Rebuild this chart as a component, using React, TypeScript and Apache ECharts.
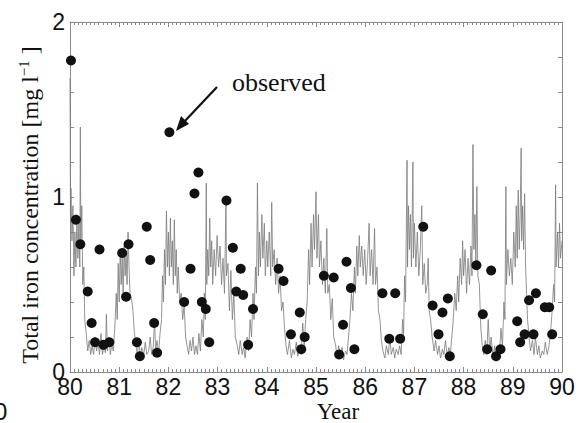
import React, { useEffect, useRef } from "react";
import * as echarts from "echarts";

// Observed total iron concentration (year, mg/l)
const obsYear = [
  80.02, 80.12, 80.21, 80.36, 80.44, 80.51, 80.60, 80.68, 80.80,
  81.06, 81.14, 81.19, 81.36, 81.42, 81.56, 81.63, 81.71, 81.77,
  82.02, 82.32, 82.45, 82.53, 82.61, 82.68, 82.76, 82.83,
  83.18, 83.31, 83.38, 83.47, 83.52, 83.62, 83.72,
  84.24, 84.34, 84.49, 84.67, 84.70, 84.77,
  85.16, 85.36, 85.47, 85.55, 85.62, 85.71, 85.78,
  86.35, 86.49, 86.61, 86.71,
  87.18, 87.37, 87.49, 87.57, 87.68, 87.72,
  88.26, 88.39, 88.48, 88.56, 88.66, 88.75,
  89.09, 89.15, 89.24, 89.33, 89.42, 89.47, 89.65, 89.74, 89.80,
];
const obsValue = [
  1.78, 0.87, 0.73, 0.46, 0.28, 0.17, 0.70, 0.155, 0.17,
  0.68, 0.43, 0.73, 0.17, 0.09, 0.83, 0.64, 0.28, 0.11,
  1.37, 0.40, 0.59, 1.02, 1.14, 0.40, 0.36, 0.17,
  0.98, 0.71, 0.46, 0.59, 0.44, 0.155, 0.36,
  0.59, 0.52, 0.215, 0.34, 0.13, 0.20,
  0.55, 0.54, 0.10, 0.27, 0.63, 0.48, 0.13,
  0.45, 0.19, 0.45, 0.19,
  0.83, 0.38, 0.215, 0.34, 0.42, 0.09,
  0.61, 0.33, 0.13, 0.58, 0.09, 0.13,
  0.29, 0.17, 0.215, 0.41, 0.215, 0.45, 0.37, 0.37, 0.215,
];

// Simulated concentration
const model80 = [
  [80.00, 1.68], [80.01, 0.85], [80.02, 1.05], [80.04, 0.75], [80.06, 0.95], [80.08, 0.55],
  [80.10, 0.8], [80.12, 0.6], [80.14, 0.9], [80.16, 0.65], [80.18, 0.85], [80.20, 0.6],
  [80.21, 1.4], [80.22, 0.75], [80.24, 0.95], [80.26, 0.5], [80.28, 0.6], [80.30, 0.3],
  [80.33, 0.22], [80.36, 0.12], [80.39, 0.18], [80.42, 0.1], [80.45, 0.15], [80.48, 0.1],
  [80.51, 0.2], [80.54, 0.12], [80.57, 0.17], [80.60, 0.1], [80.63, 0.22], [80.66, 0.1],
  [80.69, 0.15], [80.72, 0.11], [80.74, 0.33], [80.76, 0.12], [80.79, 0.2], [80.82, 0.1],
  [80.85, 0.16], [80.88, 0.12], [80.91, 0.25],
];
const model81 = [
  [80.94, 0.45], [80.96, 0.3], [80.98, 0.62], [81.00, 0.4], [81.02, 0.7], [81.04, 0.5],
  [81.06, 0.65], [81.08, 0.45], [81.10, 0.72], [81.12, 0.55], [81.14, 0.68], [81.16, 0.5],
  [81.18, 0.8], [81.20, 0.6], [81.22, 0.45], [81.25, 0.42], [81.28, 0.35], [81.31, 0.22],
  [81.34, 0.15], [81.37, 0.1], [81.40, 0.18], [81.43, 0.09], [81.46, 0.14], [81.50, 0.1],
  [81.53, 0.17], [81.56, 0.1], [81.60, 0.12], [81.63, 0.2], [81.66, 0.1], [81.69, 0.14],
  [81.72, 0.3], [81.74, 0.12], [81.77, 0.18], [81.80, 0.1], [81.83, 0.22], [81.86, 0.3],
  [81.88, 0.55], [81.90, 0.4], [81.92, 0.7], [81.94, 0.5], [81.96, 0.92], [81.98, 0.6],
];
const model82 = [
  [82.00, 0.8], [82.02, 0.55], [82.04, 0.88], [82.06, 0.6], [82.08, 0.75], [82.10, 0.5],
  [82.12, 0.87], [82.14, 0.55], [82.16, 0.7], [82.18, 0.45], [82.20, 0.6], [82.23, 0.4],
  [82.26, 0.45], [82.29, 0.3], [82.32, 0.38], [82.35, 0.2], [82.38, 0.15], [82.41, 0.1],
  [82.44, 0.18], [82.47, 0.12], [82.50, 0.2], [82.53, 0.1], [82.56, 0.15], [82.59, 0.1],
  [82.62, 0.22], [82.65, 0.12], [82.68, 0.3], [82.71, 0.2], [82.73, 0.45], [82.75, 0.3],
  [82.77, 1.08], [82.78, 0.5], [82.80, 0.7], [82.82, 0.55], [82.84, 0.88], [82.86, 0.6],
  [82.88, 0.75], [82.90, 0.5], [82.93, 0.7], [82.96, 0.55], [82.99, 0.78],
];
const model83 = [
  [83.02, 0.6], [83.05, 0.72], [83.08, 0.5], [83.11, 0.65], [83.14, 0.45], [83.17, 0.98],
  [83.18, 0.55], [83.21, 0.62], [83.24, 0.35], [83.27, 0.58], [83.30, 0.3], [83.33, 0.45],
  [83.36, 0.2], [83.40, 0.15], [83.43, 0.1], [83.46, 0.18], [83.50, 0.1], [83.53, 0.14],
  [83.56, 0.08], [83.60, 0.2], [83.63, 0.12], [83.66, 0.3], [83.69, 0.2], [83.72, 0.45],
  [83.74, 0.3], [83.77, 0.6], [83.79, 0.45], [83.81, 1.08], [83.83, 0.55], [83.85, 0.8],
  [83.87, 0.6], [83.90, 0.9], [83.92, 0.65], [83.95, 0.85], [83.97, 0.55],
];
const model84 = [
  [84.00, 0.75], [84.02, 0.6], [84.05, 0.8], [84.08, 0.55], [84.10, 0.97], [84.12, 0.6],
  [84.15, 0.7], [84.18, 0.5], [84.21, 0.65], [84.24, 0.45], [84.27, 0.55], [84.30, 0.35],
  [84.33, 0.4], [84.36, 0.25], [84.39, 0.15], [84.42, 0.1], [84.46, 0.18], [84.50, 0.08],
  [84.53, 0.13], [84.56, 0.1], [84.60, 0.17], [84.63, 0.09], [84.66, 0.12], [84.70, 0.1],
  [84.73, 0.28], [84.76, 0.15], [84.79, 0.3], [84.82, 0.4], [84.85, 0.7], [84.87, 0.5],
  [84.90, 0.85], [84.92, 0.6], [84.95, 0.9], [84.97, 0.7],
];
const model85 = [
  [85.00, 1.03], [85.02, 0.65], [85.05, 0.9], [85.07, 0.6], [85.10, 0.75], [85.13, 0.5],
  [85.16, 0.65], [85.19, 0.45], [85.22, 0.82], [85.24, 0.45], [85.27, 0.5], [85.30, 0.3],
  [85.33, 0.42], [85.36, 0.2], [85.40, 0.15], [85.43, 0.08], [85.46, 0.15], [85.50, 0.1],
  [85.53, 0.14], [85.56, 0.07], [85.60, 0.12], [85.63, 0.1], [85.66, 0.2], [85.69, 0.3],
  [85.72, 0.45], [85.75, 0.35], [85.78, 0.6], [85.80, 0.45], [85.83, 0.72], [85.85, 0.55],
  [85.88, 0.78], [85.90, 0.6], [85.93, 0.72], [85.96, 0.55], [85.99, 0.7],
];
const model86 = [
  [86.02, 0.5], [86.05, 0.65], [86.08, 0.85], [86.10, 0.55], [86.13, 0.7], [86.16, 0.5],
  [86.19, 0.82], [86.21, 0.5], [86.24, 0.6], [86.27, 0.35], [86.30, 0.3], [86.33, 0.18],
  [86.36, 0.12], [86.40, 0.08], [86.43, 0.15], [86.47, 0.1], [86.50, 0.2], [86.53, 0.1],
  [86.57, 0.14], [86.60, 0.08], [86.63, 0.13], [86.67, 0.1], [86.70, 0.15], [86.73, 0.1],
  [86.76, 0.3], [86.78, 0.2], [86.80, 0.55], [86.82, 0.4], [86.85, 1.21], [86.86, 0.6],
  [86.88, 0.95], [86.90, 0.7], [86.92, 0.9], [86.94, 0.6], [86.97, 1.2], [86.98, 0.65],
];
const model87 = [
  [87.00, 0.85], [87.03, 0.6], [87.06, 0.8], [87.09, 0.55], [87.12, 0.7], [87.15, 0.95],
  [87.17, 0.5], [87.20, 0.62], [87.23, 0.45], [87.26, 0.5], [87.28, 0.65], [87.30, 0.35],
  [87.33, 0.3], [87.36, 0.2], [87.40, 0.12], [87.43, 0.18], [87.47, 0.1], [87.50, 0.15],
  [87.53, 0.08], [87.57, 0.13], [87.60, 0.1], [87.63, 0.18], [87.67, 0.09], [87.70, 0.14],
  [87.73, 0.1], [87.76, 0.2], [87.79, 0.3], [87.82, 0.45], [87.85, 0.35], [87.88, 0.55],
  [87.90, 0.4], [87.93, 0.65], [87.96, 0.5], [87.98, 0.75],
];
const model88 = [
  [88.00, 0.55], [88.03, 0.7], [88.06, 0.45], [88.09, 0.65], [88.12, 0.5], [88.15, 0.72],
  [88.17, 0.55], [88.19, 1.3], [88.21, 0.7], [88.23, 0.9], [88.25, 0.6], [88.27, 1.06],
  [88.29, 0.55], [88.32, 0.5], [88.35, 0.25], [88.38, 0.15], [88.41, 0.1], [88.44, 0.18],
  [88.47, 0.1], [88.50, 0.3], [88.53, 0.12], [88.56, 0.2], [88.60, 0.08], [88.63, 0.15],
  [88.66, 0.07], [88.70, 0.14], [88.73, 0.1], [88.76, 0.25], [88.79, 0.15], [88.82, 0.4],
  [88.84, 0.3], [88.86, 1.06], [88.87, 0.5], [88.90, 0.7], [88.93, 0.55], [88.96, 0.65],
  [88.99, 0.5],
];
const model89 = [
  [89.02, 0.8], [89.05, 0.6], [89.07, 0.95], [89.09, 0.65], [89.11, 1.04], [89.13, 0.7],
  [89.15, 0.9], [89.17, 1.28], [89.18, 0.75], [89.20, 0.95], [89.22, 0.7], [89.24, 1.02],
  [89.26, 0.6], [89.28, 0.45], [89.30, 0.3], [89.33, 0.2], [89.36, 0.12], [89.40, 0.18],
  [89.43, 0.1], [89.46, 0.2], [89.50, 0.1], [89.53, 0.15], [89.56, 0.08], [89.60, 0.12],
  [89.63, 0.1], [89.66, 0.17], [89.70, 0.1], [89.73, 0.14], [89.76, 0.2], [89.80, 0.35],
  [89.83, 0.5], [89.85, 0.4], [89.87, 1.07], [89.88, 0.6], [89.91, 0.8], [89.93, 0.6],
  [89.95, 0.85], [89.97, 0.65], [90.00, 0.75],
];

const xTicks = { min: 80, max: 90, interval: 1 };
const yTicks = { min: 0, max: 2, interval: 0.2 };

export default function App() {
  const ref = useRef<HTMLDivElement>(null);
  useEffect(() => {
    if (!ref.current) return;
    const chart = echarts.init(ref.current, null, { renderer: "svg" });
    const model = [
      ...model80, ...model81, ...model82, ...model83, ...model84,
      ...model85, ...model86, ...model87, ...model88, ...model89,
    ];
    const observed = obsYear.map((t, i) => [t, obsValue[i]]);
    const axisCol = "#8a8a8a";
    const sans = "Liberation Sans";
    const serif = "Liberation Serif";
    const intLabel = (v: number) =>
      Math.abs(v - Math.round(v)) < 1e-6 ? String(Math.round(v)) : "";

    const xBase = {
      type: "value",
      min: xTicks.min,
      max: xTicks.max,
      interval: xTicks.interval,
      axisLine: { show: true, onZero: false, lineStyle: { color: axisCol, width: 1 } },
      axisTick: { show: true, inside: true, length: 5, lineStyle: { color: axisCol } },
      minorTick: { show: true, splitNumber: 12, length: 3, lineStyle: { color: axisCol } },
      splitLine: { show: false },
    };
    const yBase = {
      type: "value",
      min: yTicks.min,
      max: yTicks.max,
      interval: yTicks.interval,
      axisLine: { show: true, onZero: false, lineStyle: { color: axisCol, width: 1 } },
      axisTick: { show: true, inside: true, length: 4, lineStyle: { color: axisCol } },
      splitLine: { show: false },
    };

    chart.setOption({
      animation: false,
      backgroundColor: "#ffffff",
      grid: { left: 70, right: 23, top: 22, bottom: 51 },
      xAxis: [
        {
          ...xBase,
          position: "bottom",
          axisLabel: {
            show: true,
            margin: 3,
            fontFamily: sans,
            fontSize: 23,
            color: "#111",
            formatter: intLabel,
          },
        },
        { ...xBase, position: "top", axisLabel: { show: false } },
      ],
      yAxis: [
        {
          ...yBase,
          position: "left",
          axisLabel: {
            show: true,
            margin: 5,
            fontFamily: sans,
            fontSize: 23,
            color: "#111",
            formatter: intLabel,
          },
        },
        { ...yBase, position: "right", axisLabel: { show: false } },
      ],
      series: [
        {
          name: "simulated",
          type: "line",
          data: model,
          showSymbol: false,
          symbol: "none",
          lineStyle: { color: "#7a7a7a", width: 0.8 },
          z: 2,
        },
        {
          name: "observed",
          type: "scatter",
          data: observed,
          symbol: "circle",
          symbolSize: 10,
          itemStyle: { color: "#111", opacity: 1 },
          z: 3,
        },
      ],
      graphic: [
        {
          type: "text",
          x: 30,
          y: 205,
          rotation: Math.PI / 2,
          style: {
            text: "{a|Total iron concentration [mg l}{s|−1}{a| ]}",
            rich: {
              a: { fontFamily: serif, fontSize: 24, fill: "#111", lineHeight: 28 },
              s: {
                fontFamily: serif,
                fontSize: 15,
                fill: "#111",
                verticalAlign: "top",
                lineHeight: 28,
              },
            },
            align: "center",
            verticalAlign: "middle",
          },
        },
        {
          type: "text",
          x: 338,
          y: 411,
          style: {
            text: "Year",
            fontFamily: serif,
            fontSize: 23,
            fill: "#111",
            align: "center",
            verticalAlign: "middle",
          },
        },
        {
          type: "text",
          x: 232,
          y: 82,
          style: {
            text: "observed",
            fontFamily: serif,
            fontSize: 26,
            fill: "#111",
            align: "left",
            verticalAlign: "middle",
          },
        },
        {
          type: "line",
          shape: { x1: 217, y1: 87, x2: 184, y2: 122 },
          style: { stroke: "#111", lineWidth: 2.2 },
        },
        {
          type: "polygon",
          shape: { points: [[176, 131], [189, 124], [181, 116]] },
          style: { fill: "#111" },
        },
        {
          type: "text",
          x: -6,
          y: 411,
          style: {
            text: "0",
            fontFamily: sans,
            fontSize: 24,
            fill: "#111",
            align: "left",
            verticalAlign: "middle",
          },
        },
      ],
    });
    return () => chart.dispose();
  }, []);
  return (
    <div
      ref={ref}
      style={{ position: "fixed", left: 0, top: 0, width: 585, height: 423 }}
    />
  );
}
